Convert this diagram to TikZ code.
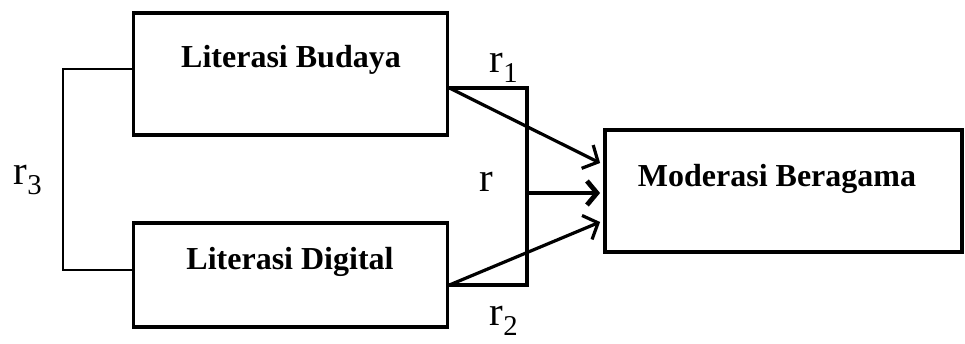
\documentclass[tikz,border=0pt]{standalone}
\usepackage{fontspec}
\setmainfont{Liberation Serif}
\usetikzlibrary{arrows.meta,calc}
\begin{document}
\begin{tikzpicture}[x=1pt,y=-1pt,
  boxstyle/.style={draw,line width=3.8pt,rectangle,inner sep=0pt},
  boxtext/.style={font=\fontsize{32}{36}\selectfont\bfseries,inner sep=0pt},
  rlabel/.style={font=\fontsize{41}{46}\selectfont,inner sep=0pt},
  thinline/.style={line width=2.8pt},
  thickline/.style={line width=4.6pt},
  arrowline/.style={line width=3.2pt,-{Straight Barb[length=12pt,width=26pt,line width=3.2pt]}},
  bigarrow/.style={line width=4.8pt,-{Straight Barb[length=10pt,width=24pt,line width=4.8pt]}}]
\useasboundingbox (0,0) rectangle (965,343);
\fill[white] (0,0) rectangle (965,343);
% boxes
\node[boxstyle,minimum width=314pt,minimum height=122pt] (b1) at (290.5,74) {};
\node[boxstyle,minimum width=314pt,minimum height=104pt] (b2) at (290.5,275) {};
\node[boxstyle,minimum width=357pt,minimum height=122pt] (b3) at (783.5,191) {};
\node[boxtext] (t1) at (291,60) {Literasi Budaya};
\node[boxtext] (t2) at (290,262) {Literasi Digital};
\node[boxtext] (t3) at (777,179) {Moderasi Beragama};
% left bracket
\coordinate (lt) at (b1.west |- 0,69);
\coordinate (lb) at (b2.west |- 0,270);
\draw[thinline] (lt) -- (63,69) -- (63,270) -- (lb);
\node[rlabel] (r3) at (28,180) {r\textsubscript{3}};
% right bracket
\coordinate (rt) at (b1.east |- 0,88);
\coordinate (rb) at (b2.east |- 0,285);
\coordinate (rm) at (527,193);
\draw[thickline,line join=miter] (rt) -- (527,88) -- (527,285) -- (rb);
\coordinate (a1) at (b3.west |- 0,163);
\coordinate (a2) at (b3.west |- 0,222);
\coordinate (a0) at (b3.west |- rm);
\draw[arrowline] (rt) -- ($(a1)+(-3,0)$);
\draw[arrowline] (rb) -- ($(a2)+(-3,0)$);
\draw[bigarrow] (rm) -- ($(a0)+(-3,0)$);
\node[rlabel] (r1) at (504,68) {r\textsubscript{1}};
\node[rlabel] (r2) at (504,321) {r\textsubscript{2}};
\node[rlabel] (r) at (486,182) {r};
\end{tikzpicture}
\end{document}
